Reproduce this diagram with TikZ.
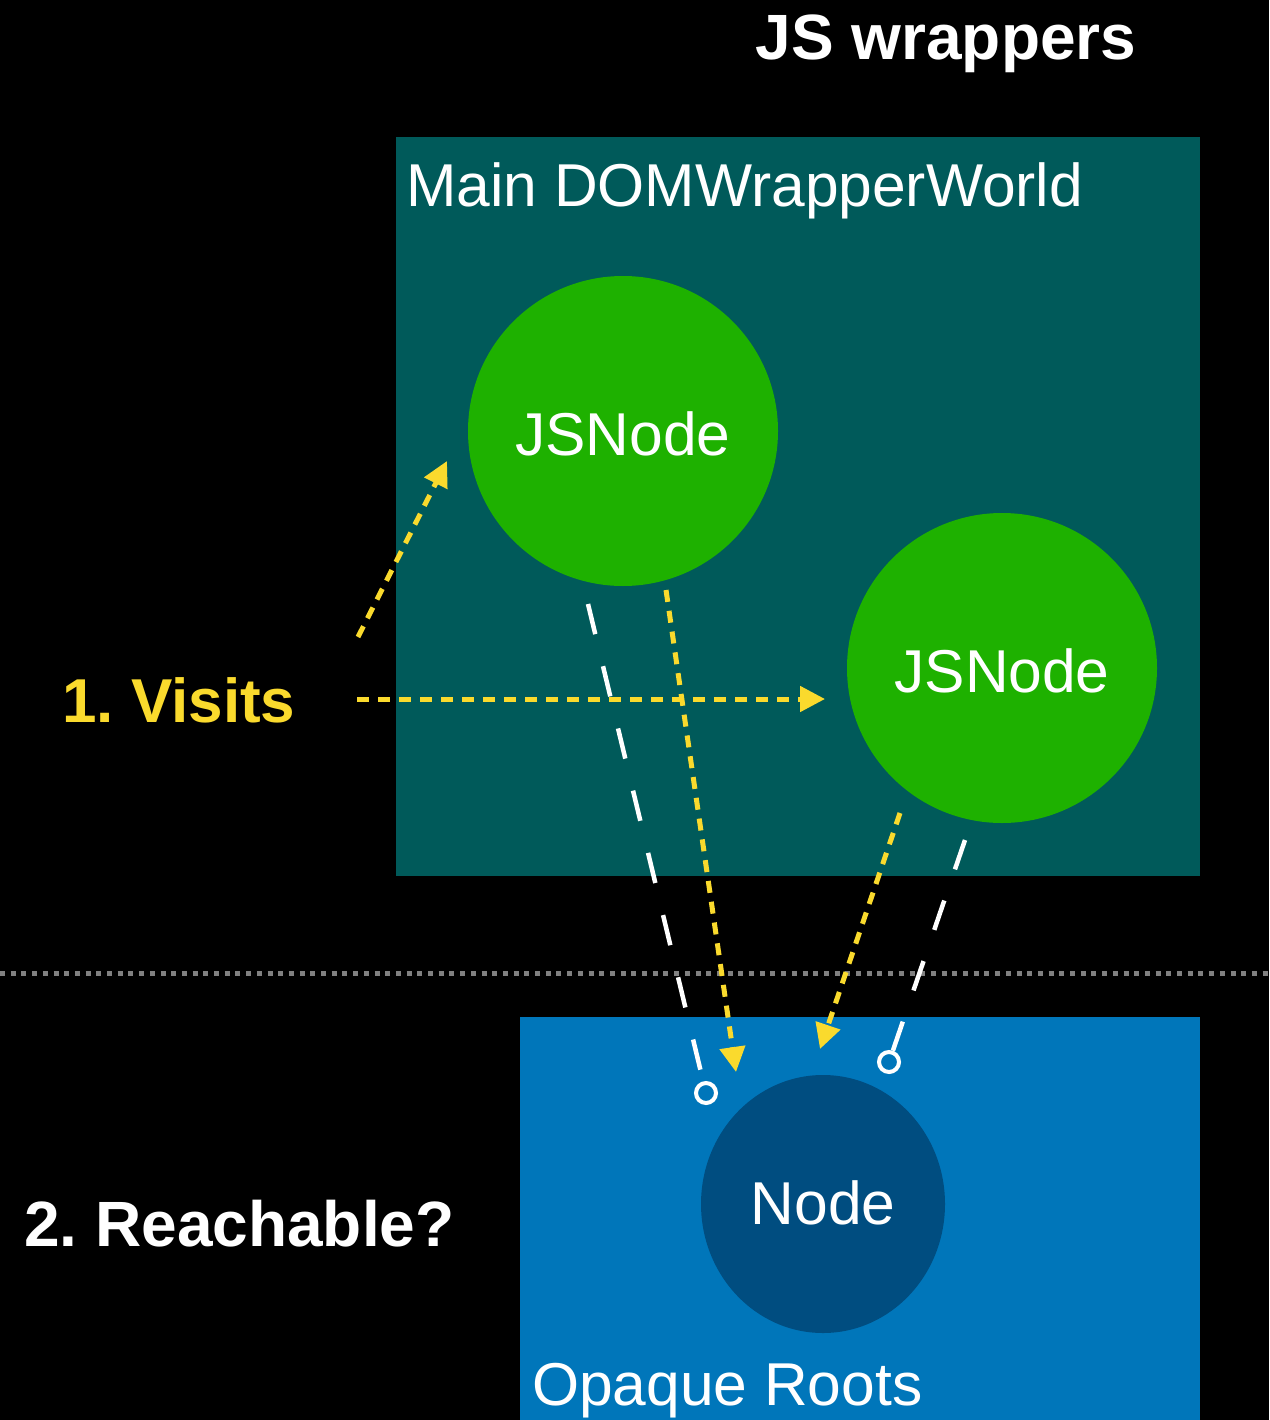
\documentclass[tikz,border=0pt]{standalone}
\usepackage{fontspec}
\setmainfont{Liberation Sans}
\usetikzlibrary{arrows.meta,shapes.geometric}
\frenchspacing
\definecolor{teal1}{RGB}{0,90,90}
\definecolor{green1}{RGB}{30,177,0}
\definecolor{blue1}{RGB}{0,118,186}
\definecolor{dblue}{RGB}{0,77,128}
\definecolor{yel}{RGB}{250,218,45}
\definecolor{dotgray}{RGB}{128,128,128}
\tikzset{
  big/.style={font=\fontsize{60.5}{60}\selectfont, text=white, inner sep=0pt},
  bigbold/.style={font=\fontsize{62}{62}\selectfont\bfseries, inner sep=0pt},
  yarrow/.style={draw=yel, line width=5pt, dash pattern=on 12pt off 9pt, -{Triangle[length=25pt,width=25pt]}},
  wlink/.style={draw=white, line width=4.5pt, dash pattern=on 31pt off 33pt},
  ring/.style={circle, draw=white, line width=4pt, minimum size=20pt, inner sep=0pt},
}
\begin{document}
\begin{tikzpicture}[x=1pt,y=-1pt]
\fill[black] (0,0) rectangle (1269,1420);
\useasboundingbox (0,0) rectangle (1269,1420);

% boxes
\fill[teal1] (396,137) rectangle (1200,876);
\fill[blue1] (520,1017) rectangle (1200,1420);

% texts
\node[bigbold, font=\fontsize{64}{64}\selectfont\bfseries, text=white, anchor=base] (title) at (946,60) {JS wrappers};
\node[big, anchor=base west] (mainlbl) at (406,207) {Main DOMWrapperWorld};
\node[big, anchor=base west] (opaque) at (532,1405) {Opaque Roots};
\node[bigbold, text=yel, anchor=base west] (visits) at (62,722) {1. Visits};
\node[bigbold, font=\fontsize{64}{64}\selectfont\bfseries, text=white, anchor=base west] (reach) at (24,1246) {2. Reachable?};

% circles
\node[circle, fill=green1, minimum size=310pt, inner sep=0pt] (js1) at (623,431) {};
\node[big, anchor=base] (js1t) at (623,455) {JSNode};
\node[circle, fill=green1, minimum size=310pt, inner sep=0pt] (js2) at (1002,668) {};
\node[big, anchor=base] (js2t) at (1002,692) {JSNode};
\node[ellipse, fill=dblue, minimum width=244pt, minimum height=258pt, inner sep=0pt] (nd) at (823,1204) {};
\node[big, anchor=base] (ndt) at (823,1224) {Node};

% dotted separator
\coordinate (sepL) at (0,973);
\coordinate (sepR) at (1269,973);
\draw[dotgray, line width=5pt, dash pattern=on 5pt off 5.7pt] (sepL) -- (sepR);

% yellow visit arrows
\coordinate (a1s) at (357,699);
\coordinate (a1e) at (825,699);
\coordinate (a2s) at (358,637);
\coordinate (a2e) at (447,461);
\coordinate (a3s) at (666,590);
\coordinate (a3e) at (736,1072);
\coordinate (a4s) at (900,813);
\coordinate (a4e) at (820,1049);
\draw[yarrow] (a1s) -- (a1e);
\draw[yarrow] (a2s) -- (a2e);
\draw[yarrow] (a3s) -- (a3e);
\draw[yarrow] (a4s) -- (a4e);

% white dashed links with ring ends
\node[ring] (r1) at (706,1093) {};
\node[ring] (r2) at (889,1062) {};
\coordinate (w1s) at (588,604);
\coordinate (w2s) at (965,840);
\draw[wlink] (w1s) -- (r1);
\draw[wlink] (w2s) -- (r2);
\end{tikzpicture}
\end{document}
